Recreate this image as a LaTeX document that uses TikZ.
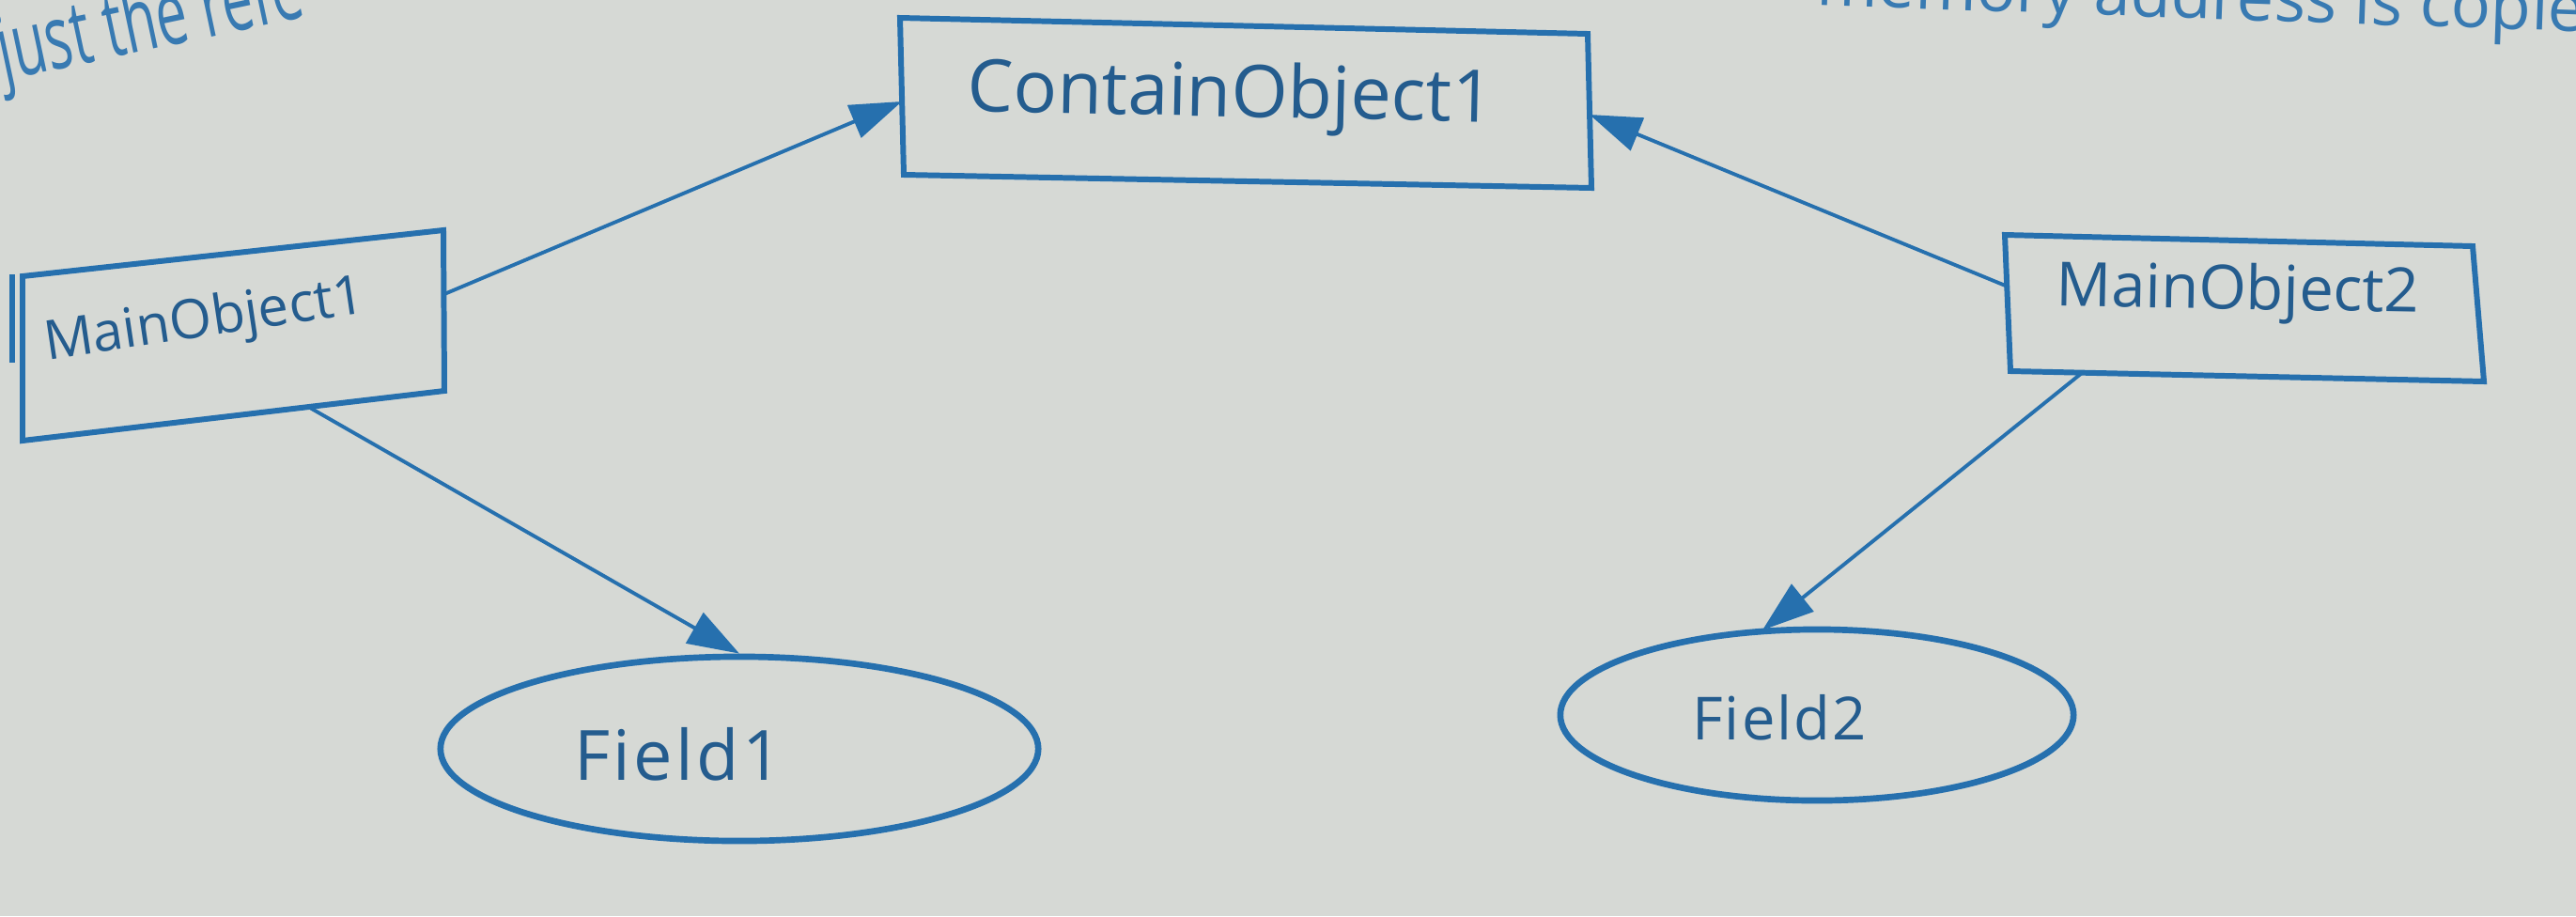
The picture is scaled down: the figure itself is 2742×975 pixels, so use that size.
\documentclass[tikz,border=0pt]{standalone}
\usepackage{fontspec}
\setmainfont{Open Sans}
\usetikzlibrary{arrows.meta,shapes.geometric,calc}
\definecolor{paper}{RGB}{214,217,213}
\definecolor{ink}{RGB}{38,112,174}
\definecolor{inktext}{RGB}{36,92,142}
\begin{document}
\begin{tikzpicture}[x=0.01cm,y=-0.01cm,
  outline/.style={draw=ink, line width=1.7pt, line join=miter},
  oval/.style={ellipse, draw=ink, line width=1.9pt, inner sep=0pt},
  caption/.style={text=inktext, inner sep=0pt},
  link/.style={draw=ink, line width=1.1pt, -{Triangle[length=0.55cm,width=0.37cm]}},
  prose/.style={text=ink!90!paper, inner sep=0pt}]
  \useasboundingbox (0,0) rectangle (2742,975);
  \clip (0,0) rectangle (2742,975);
  \fill[paper] (0,0) rectangle (2742,975);

  % running text of the page around the figure
  \node[prose, anchor=base west, rotate=12] (txtA) at (4,86)
    {\scalebox{0.62}[1]{\fontsize{27pt}{31pt}\selectfont just the refe}};
  \node[prose, anchor=base east, rotate=-2] (txtB) at (2752,34)
    {\fontsize{20pt}{24pt}\selectfont memory address is copie};

  % ContainObject1
  \coordinate (c1tl) at (958,19);
  \coordinate (c1tr) at (1690,36);
  \coordinate (c1br) at (1694,200);
  \coordinate (c1bl) at (962,186);
  \draw[outline] (c1tl) -- (c1tr) -- (c1br) -- (c1bl) -- cycle;
  \node[caption, rotate=-1.2] (c1) at (1310,104)
    {\fontsize{22pt}{26pt}\selectfont ContainObject1};
  \coordinate (c1w) at (960,108);
  \coordinate (c1e) at (1692,122);

  % MainObject1
  \coordinate (m1tl) at (24,294);
  \coordinate (m1tr) at (472,245);
  \coordinate (m1br) at (473,416);
  \coordinate (m1bl) at (24,469);
  \draw[outline] (m1tl) -- (m1tr) -- (m1br) -- (m1bl) -- cycle;
  \draw[outline] (13,292) -- (13,386);
  \node[caption, rotate=8.5] (m1) at (218,343)
    {\fontsize{16.5pt}{19pt}\selectfont MainObject1};
  \coordinate (m1e) at (473,313);
  \coordinate (m1s) at (330,434);

  % MainObject2
  \coordinate (m2tl) at (2134,250);
  \coordinate (m2tr) at (2632,262);
  \coordinate (m2br) at (2644,406);
  \coordinate (m2bl) at (2140,395);
  \draw[outline] (m2tl) -- (m2tr) -- (m2br) -- (m2bl) -- cycle;
  \node[caption, rotate=-1] (m2) at (2382,312)
    {\fontsize{18.5pt}{22pt}\selectfont MainObject2};
  \coordinate (m2w) at (2137,305);
  \coordinate (m2s) at (2216,397);

  % Field1 and Field2
  \node[oval, minimum width=6.36cm, minimum height=1.96cm] (f1) at (787,797) {};
  \node[caption] (f1t) at (722,803)
    {\fontsize{21pt}{25pt}\selectfont F\kern1pt i\kern1pt e\kern1pt l\kern1pt d\kern1pt 1};
  \node[oval, minimum width=5.46cm, minimum height=1.82cm] (f2) at (1934,761) {};
  \node[caption] (f2t) at (1894,764)
    {\fontsize{18pt}{22pt}\selectfont F\kern0.6pt i\kern0.6pt e\kern0.6pt l\kern0.6pt d\kern0.6pt 2};
  \coordinate (f2n) at ($(f2.north)+(-58,4)$);

  % references
  \draw[link] (m1e) -- (c1w);
  \draw[link] (m2w) -- (c1e);
  \draw[link] (m1s) -- (f1.north);
  \draw[link] (m2s) -- (f2n);
\end{tikzpicture}
\end{document}
